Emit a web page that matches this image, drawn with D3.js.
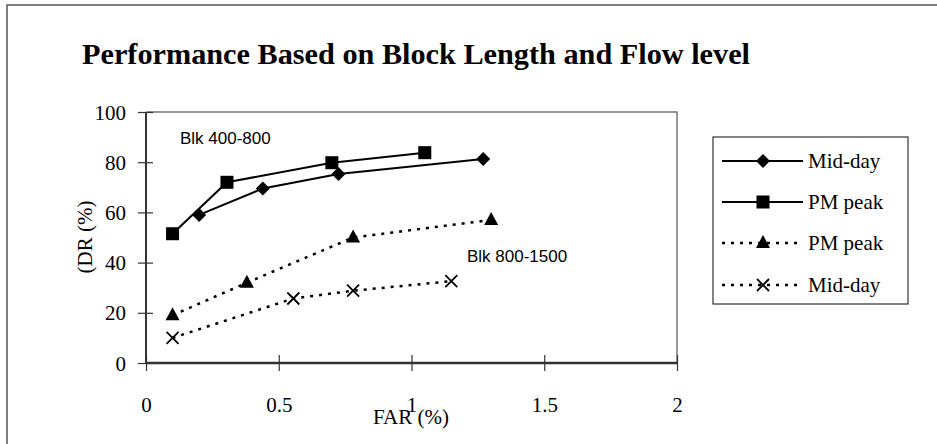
<!DOCTYPE html>
<html><head><meta charset="utf-8">
<script src="https://cdn.jsdelivr.net/npm/d3@7"></script>
<style>body{margin:0;background:#fff}svg{display:block}</style>
</head><body>
<svg id="c" width="937" height="444"></svg>
<script>
const titleText = "Performance Based on Block Length and Flow level";
const xTicks = [0, 0.5, 1, 1.5, 2];
const yTicks = [0, 20, 40, 60, 80, 100];
const seriesNames = ["Mid-day", "PM peak", "PM peak", "Mid-day"];
const midDay400X = [0.2, 0.44, 0.725, 1.27];
const midDay400Y = [59, 69.5, 75.3, 81.3];
const pmPeak400X = [0.1, 0.305, 0.7, 1.05];
const pmPeak400Y = [51.5, 72, 79.8, 83.8];
const pmPeak800X = [0.1, 0.38, 0.78, 1.3];
const pmPeak800Y = [19, 32, 50, 57];
const midDay800X = [0.1, 0.555, 0.78, 1.15];
const midDay800Y = [10, 25.7, 28.8, 32.6];
const groupLabels = ["Blk 400-800", "Blk 800-1500"];

const SERIF = "'Times New Roman', 'Liberation Serif', serif";
const svg = d3.select("#c");
const x = d3.scaleLinear().domain([0, 2]).range([146, 677]);
const y = d3.scaleLinear().domain([0, 100]).range([363, 112]);

// outer frame
svg.append("rect").attr("x", 7).attr("y", 5).attr("width", 940).attr("height", 450)
  .attr("fill", "none").attr("stroke", "#555").attr("stroke-width", 1.5);

svg.append("text").attr("x", 82).attr("y", 64).style("font-family", SERIF)
  .attr("font-weight", "bold").attr("font-size", 29).attr("textLength", 668)
  .attr("lengthAdjust", "spacingAndGlyphs").text(titleText);

// plot frame top/right
svg.append("path").attr("d", `M${x(0)},${y(100)}H${x(2)}V${y(0)}`)
  .attr("fill", "none").attr("stroke", "#777").attr("stroke-width", 1.5);

const yAxis = d3.axisLeft(y).tickValues(yTicks).tickSize(8).tickPadding(12).tickFormat(d3.format("d"));
const gy = svg.append("g").attr("transform", `translate(${x(0)},0)`).call(yAxis);
gy.attr("font-family", null);
gy.selectAll(".tick line").attr("x2", -8).attr("x1", 7).attr("stroke", "#333").attr("stroke-width", 1.2);
gy.select(".domain").attr("stroke", "#333").attr("stroke-width", 2).attr("d", `M0,${y(100)}V${y(0)}`);
gy.selectAll("text").style("font-family", SERIF).style("font-size", "21px").attr("fill", "#000").attr("dy", "0.34em");

const xAxis = d3.axisBottom(x).tickValues(xTicks).tickSize(8).tickPadding(26).tickFormat(d => String(d));
const gx = svg.append("g").attr("transform", `translate(0,${y(0)})`).call(xAxis);
gx.attr("font-family", null);
gx.selectAll(".tick line").attr("y1", -8).attr("y2", 8).attr("stroke", "#333").attr("stroke-width", 1.2);
gx.select(".domain").attr("stroke", "#333").attr("stroke-width", 2.5).attr("d", `M${x(0)},0H${x(2)}`);
gx.selectAll("text").style("font-family", SERIF).style("font-size", "21px").attr("fill", "#000");

svg.append("text").attr("x", 411).attr("y", 424).attr("text-anchor", "middle")
  .style("font-family", SERIF).attr("font-size", 21).text("FAR (%)");
svg.append("text").attr("transform", "translate(92,237) rotate(-90)").attr("text-anchor", "middle")
  .style("font-family", SERIF).attr("font-size", 21).text("(DR (%)");

const series = [
  {xs: midDay400X, ys: midDay400Y, dash: null, sym: "diamond"},
  {xs: pmPeak400X, ys: pmPeak400Y, dash: null, sym: "square"},
  {xs: pmPeak800X, ys: pmPeak800Y, dash: "3,6", sym: "triangle"},
  {xs: midDay800X, ys: midDay800Y, dash: "3,6", sym: "x"}
];
function drawMarker(g, sym, cx, cy) {
  if (sym === "diamond") g.append("path").attr("d", `M${cx},${cy-7}L${cx+7},${cy}L${cx},${cy+7}L${cx-7},${cy}Z`).attr("fill", "#000");
  else if (sym === "square") g.append("rect").attr("x", cx-6.5).attr("y", cy-6.5).attr("width", 13).attr("height", 13).attr("fill", "#000");
  else if (sym === "triangle") g.append("path").attr("d", `M${cx},${cy-8}L${cx+7},${cy+5}L${cx-7},${cy+5}Z`).attr("fill", "#000");
  else g.append("path").attr("d", `M${cx-6},${cy-6}L${cx+6},${cy+6}M${cx+6},${cy-6}L${cx-6},${cy+6}`).attr("stroke", "#000").attr("stroke-width", 1.8);
}
const line = d3.line().x(d => x(d[0])).y(d => y(d[1]));
series.forEach(s => {
  const pts = s.xs.map((v, i) => [v, s.ys[i]]);
  svg.append("path").attr("d", line(pts)).attr("fill", "none").attr("stroke", "#000")
    .attr("stroke-width", s.dash ? 2.5 : 2).attr("stroke-dasharray", s.dash);
  const g = svg.append("g");
  pts.forEach(p => drawMarker(g, s.sym, x(p[0]), y(p[1])));
});

svg.append("text").attr("x", 180).attr("y", 144).style("font-family", "'Liberation Sans', Arial, sans-serif").attr("font-size", 17).text(groupLabels[0]);
svg.append("text").attr("x", 467).attr("y", 262).style("font-family", "'Liberation Sans', Arial, sans-serif").attr("font-size", 17).text(groupLabels[1]);

// legend
svg.append("rect").attr("x", 713).attr("y", 137).attr("width", 195).attr("height", 167)
  .attr("fill", "#fff").attr("stroke", "#333").attr("stroke-width", 1.2);
const legY = [161, 202, 243, 285];
series.forEach((s, i) => {
  const g = svg.append("g");
  g.append("line").attr("x1", 722).attr("x2", 803).attr("y1", legY[i]).attr("y2", legY[i])
    .attr("stroke", "#000").attr("stroke-width", s.dash ? 2.5 : 2).attr("stroke-dasharray", s.dash);
  drawMarker(g, s.sym, 763, legY[i]);
  g.append("text").attr("x", 808).attr("y", legY[i] + 7).style("font-family", SERIF)
    .attr("font-size", 21).text(seriesNames[i]);
});
</script>
</body></html>
